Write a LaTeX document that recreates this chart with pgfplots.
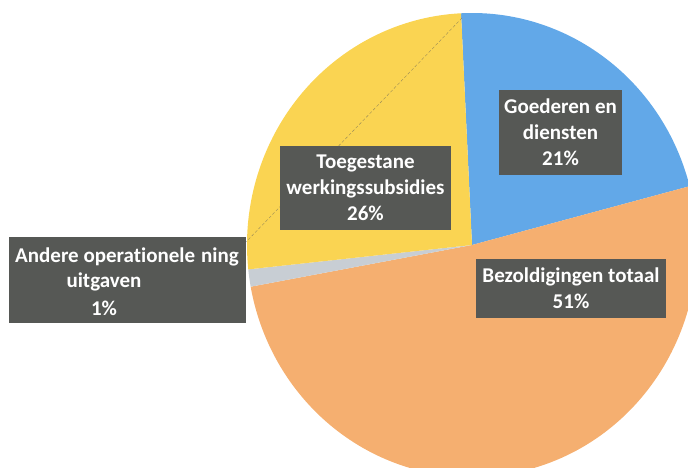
\documentclass[border=0pt]{standalone}
\usepackage{pgfplots}
\usepackage{pgfplotstable}
\pgfplotsset{compat=1.18}
\usepackage{fontspec}
\setmainfont{Carlito}[Ligatures=NoCommon]
\definecolor{sBlue}{RGB}{98,168,232}
\definecolor{sOrange}{RGB}{245,175,112}
\definecolor{sGrey}{RGB}{200,206,212}
\definecolor{sYellow}{RGB}{250,212,82}
\definecolor{boxG}{RGB}{86,88,85}

\pgfplotstableread{
label value
Goederen 21.7
Bezoldigingen 51.2
Andere 1.2
Toegestane 25.9
}\piedata

\begin{document}%
\begin{tikzpicture}
\pgfplotstablegetelem{0}{value}\of\piedata \pgfmathsetmacro\vA{\pgfplotsretval}
\pgfplotstablegetelem{1}{value}\of\piedata \pgfmathsetmacro\vB{\pgfplotsretval}
\pgfplotstablegetelem{2}{value}\of\piedata \pgfmathsetmacro\vC{\pgfplotsretval}
\pgfplotstablegetelem{3}{value}\of\piedata \pgfmathsetmacro\vD{\pgfplotsretval}
\pgfmathsetmacro\aZero{92.8}
\pgfmathsetmacro\aOne{\aZero-3.6*\vA}
\pgfmathsetmacro\aTwo{\aOne-3.6*\vB}
\pgfmathsetmacro\aThree{\aTwo-3.6*\vC}
\pgfmathsetmacro\aFour{\aThree-3.6*\vD}
\begin{axis}[at={(0,0)}, anchor=south west, width=688pt, height=468pt,
  scale only axis, xmin=0, xmax=688, ymin=0, ymax=468, hide axis, clip=true,
  enlargelimits=false]
\addplot[draw=none] coordinates {(0,0) (688,468)};
\fill[sBlue] (axis cs:472,223) -- ++(\aZero:225pt and 232pt) arc[start angle=\aZero, end angle=\aOne, x radius=225pt, y radius=232pt] -- cycle;
\fill[sOrange] (axis cs:472,223) -- ++(\aOne:225pt and 232pt) arc[start angle=\aOne, end angle=\aTwo, x radius=225pt, y radius=232pt] -- cycle;
\fill[sGrey] (axis cs:472,223) -- ++(\aTwo:225pt and 232pt) arc[start angle=\aTwo, end angle=\aThree, x radius=225pt, y radius=232pt] -- cycle;
\fill[sYellow] (axis cs:472,223) -- ++(\aThree:225pt and 232pt) arc[start angle=\aThree, end angle=\aFour, x radius=225pt, y radius=232pt] -- cycle;
\draw[gray!70!black, densely dashed, line width=0.4pt, opacity=0.6] (axis cs:462,450) -- (axis cs:245,225);
% label boxes
\node[fill=boxG, minimum width=123pt, minimum height=85pt, inner sep=0pt] at (axis cs:560.5,335.5) {};
\node[fill=boxG, minimum width=171pt, minimum height=84pt, inner sep=0pt] at (axis cs:365.5,280) {};
\node[fill=boxG, minimum width=237pt, minimum height=86pt, inner sep=0pt] at (axis cs:127.5,188) {};
\node[fill=boxG, minimum width=190pt, minimum height=59pt, inner sep=0pt] at (axis cs:571,179.5) {};
% texts
\tikzset{lbl/.style={text=white, font=\fontsize{21}{26}\selectfont\bfseries, align=center, inner sep=0pt}}
\node[lbl] at (axis cs:560.5,335.5) {Goederen en\\diensten\\21\%};
\node[lbl] at (axis cs:365.5,280) {Toegestane\\werkingssubsidies\\26\%};
\node[lbl] at (axis cs:571,179.5) {Bezoldigingen totaal\\51\%};
\node[lbl] at (axis cs:127,211) {Andere operationele\hspace{6pt}ning};
\node[lbl] at (axis cs:104,186) {uitgaven};
\node[lbl] at (axis cs:104,160) {1\%};
\end{axis}
\pgfresetboundingbox
\path[use as bounding box] (0,0) rectangle (688pt,468pt);
\end{tikzpicture}%
\end{document}
